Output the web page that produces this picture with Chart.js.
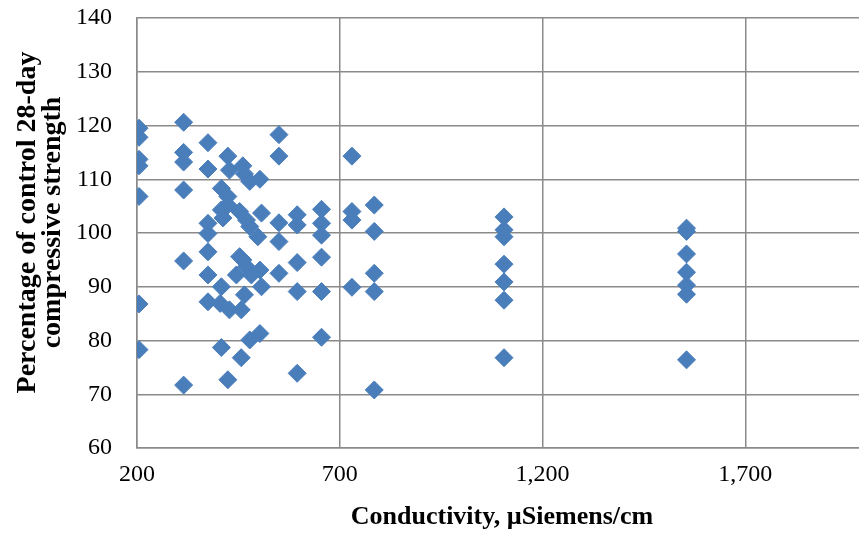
<!DOCTYPE html>
<html>
<head>
<meta charset="utf-8">
<script src="https://cdn.jsdelivr.net/npm/chart.js@4.4.0/dist/chart.umd.min.js"></script>
<style>
  html, body { margin: 0; padding: 0; background: #fff; overflow: hidden; }
  #wrap { width: 859px; height: 537px; overflow: hidden; }
</style>
</head>
<body>
<div id="wrap"><canvas id="chart" width="877" height="537"></canvas></div>
<script>
// conductivity (µSiemens/cm) and strength (% of control), paired by index
const conductivity = [
  205, 205, 205, 205, 205, 205, 205,
  315, 315, 315, 315, 315, 315,
  375, 375, 375, 375, 375, 375, 375,
  408, 408, 408, 408, 405, 424, 424, 424, 424, 412, 428, 428,
  445, 453, 453, 457, 457, 461, 461, 465, 465, 470, 470,
  478, 478, 478, 482, 498, 503, 503, 503, 507, 507,
  550, 550, 550, 550, 550,
  595, 595, 595, 595, 595,
  655, 655, 655, 655, 655, 655,
  730, 730, 730, 730,
  785, 785, 785, 785, 785,
  1105, 1105, 1105, 1105, 1105, 1105, 1105,
  1555, 1555, 1555, 1555, 1555, 1555, 1555
]
const strength = [
  119.5, 117.8, 113.7, 112.5, 106.8, 86.8, 78.3,
  120.6, 115.0, 113.2, 108.0, 94.8, 71.7,
  116.8, 111.9, 101.8, 99.9, 96.5, 92.2, 87.2,
  108.3, 104.3, 90.0, 78.7, 86.9, 114.3, 106.8, 105.2, 72.7, 102.8, 111.7, 85.7,
  92.2, 104.0, 95.6, 85.7, 76.8, 112.5, 95.0, 111.0, 88.5, 102.4, 93.7,
  109.6, 101.2, 80.1, 92.2, 99.3, 110.0, 93.1, 81.3, 103.7, 90.0,
  118.3, 114.3, 101.9, 98.4, 92.5,
  103.4, 101.5, 94.5, 89.1, 73.9,
  104.4, 101.8, 99.6, 95.5, 89.1, 80.6,
  114.3, 104.0, 102.4, 89.9,
  105.2, 100.3, 92.5, 89.1, 70.8,
  103.0, 100.6, 99.3, 94.2, 90.9, 87.5, 76.8,
  100.9, 100.3, 96.1, 92.7, 90.3, 88.6, 76.4
]
const xTicks = [200, 700, 1200, 1700]
// leading spaces nudge the rotated title up a little, as in the original
const yTitle = ['   Percentage of control 28-day', '   compressive strength']
const xTitle = 'Conductivity, µSiemens/cm'

const points = conductivity.map((x, i) => ({ x: x, y: strength[i] }))
const gridColor = '#8a8a8a'
const serif = 'Liberation Serif, Times New Roman, serif'

const config = {
  type: 'scatter',
  data: {
    datasets: [
      {
        label: 'strength',
        data: points,
        pointStyle: 'rectRot',
        pointRadius: 9,
        backgroundColor: '#4a7ebb',
        borderColor: '#4a7ebb',
        borderWidth: 1,
      },
    ],
  },
  options: {
    responsive: false,
    animation: false,
    devicePixelRatio: 1,
    layout: { padding: { top: 18, right: 2, left: 0, bottom: 0 } },
    plugins: { legend: { display: false }, tooltip: { enabled: false } },
    scales: {
      x: {
        type: 'linear',
        min: 200,
        max: 2000,
        afterBuildTicks: (scale) => {
          scale.ticks = xTicks.map((v) => ({ value: v }))
        },
        afterFit: (scale) => {
          scale.height = 89
          scale.paddingLeft = 0
          scale.paddingRight = 0
        },
        grid: { color: gridColor, lineWidth: 1.5, drawTicks: false },
        border: { color: gridColor, width: 1.5 },
        ticks: { color: '#000', font: { family: serif, size: 24 }, padding: 12, maxRotation: 0 },
        title: {
          display: true,
          text: xTitle,
          color: '#000',
          font: { family: serif, size: 26, weight: 'bold' },
          padding: { top: 9 },
        },
      },
      y: {
        min: 60,
        max: 140,
        afterFit: (scale) => {
          scale.width = 137
          scale.paddingTop = 0
          scale.paddingBottom = 0
        },
        grid: { color: gridColor, lineWidth: 1.5, drawTicks: false },
        border: { color: gridColor, width: 1.5 },
        ticks: { stepSize: 10, color: '#000', font: { family: serif, size: 24 }, padding: 25 },
        title: {
          display: true,
          text: yTitle,
          color: '#000',
          font: { family: serif, size: 28, weight: 'bold', lineHeight: 0.9 },
          padding: { top: 15 },
        },
      },
    },
  },
}

const myChart = new Chart(document.getElementById('chart'), config)
</script>
</body>
</html>
